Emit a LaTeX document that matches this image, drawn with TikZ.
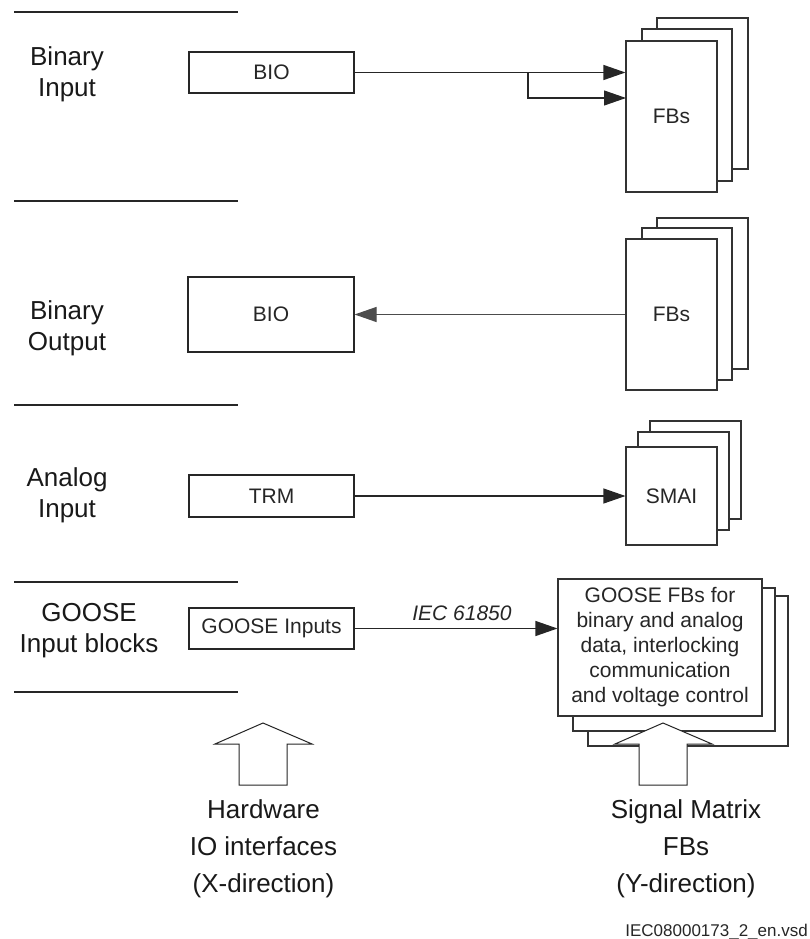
\documentclass[tikz,border=0pt]{standalone}
\usepackage{fontspec}
\setmainfont{Liberation Sans}
\usetikzlibrary{arrows.meta}
\begin{document}
\begin{tikzpicture}[x=1pt, y=-1pt,
  sep/.style={line width=2pt, draw=black!85},
  lbl/.style={align=center, font=\fontsize{26}{31}\selectfont, text=black!90, inner sep=0pt},
  botlbl/.style={align=center, font=\fontsize{26}{37}\selectfont, text=black!90, inner sep=0pt},
  iobox/.style={draw=black!85, line width=1.1pt, fill=white, inner sep=0pt, font=\fontsize{21}{25}\selectfont, text=black!85},
  layer/.style={draw=black!80, line width=1.1pt, fill=white, inner sep=0pt, font=\fontsize{21}{25}\selectfont, text=black!85, align=center},
  arr/.style={line width=1.1pt, draw=black!85, -{Triangle[length=22pt,width=15pt]}},
  hollow/.style={draw=black!85, line width=1pt, fill=white, line join=miter}
]
\useasboundingbox (0,0) rectangle (810,939);

% separator lines
\draw[sep] (14,12) -- (238,12);
\draw[sep] (14,201) -- (238,201);
\draw[sep] (14,405) -- (238,405);
\draw[sep] (14,582) -- (238,582);
\draw[sep] (14,692) -- (238,692);

% row labels
\node[lbl] (lbin) at (67,74) {Binary\\Input};
\node[lbl] (lbout) at (67,328) {Binary\\Output};
\node[lbl] (lana) at (67,495) {Analog\\Input};
\node[lbl] (lgoose) at (89,631) {GOOSE\\Input blocks};

% left boxes
\node[iobox, minimum width=165pt, minimum height=41pt] (bio1) at (271.5,72.5) {BIO};
\node[iobox, minimum width=166pt, minimum height=75pt] (bio2) at (271,314.5) {BIO};
\node[iobox, minimum width=165pt, minimum height=42pt] (trm) at (271.5,496) {TRM};
\node[iobox, minimum width=165pt, minimum height=41pt] (gin) at (271.5,628.5) {GOOSE Inputs};

% stack 1
\node[layer, minimum width=91pt, minimum height=151pt] (fb1b) at (702.5,93.5) {};
\node[layer, minimum width=90pt, minimum height=152pt] (fb1m) at (687,105) {};
\node[layer, minimum width=91pt, minimum height=151pt] (fb1f) at (671.5,116.5) {FBs};

% stack 2
\node[layer, minimum width=91pt, minimum height=151pt] (fb2b) at (702.5,293.5) {};
\node[layer, minimum width=90pt, minimum height=152pt] (fb2m) at (687,304) {};
\node[layer, minimum width=91pt, minimum height=151pt] (fb2f) at (671.5,314.5) {FBs};

% stack 3
\node[layer, minimum width=91pt, minimum height=98pt] (fb3b) at (695.5,470) {};
\node[layer, minimum width=91pt, minimum height=98pt] (fb3m) at (683.5,481) {};
\node[layer, minimum width=91pt, minimum height=98pt] (fb3f) at (671.5,496) {SMAI};

% stack 4
\node[layer, minimum width=200pt, minimum height=150pt] (fb4b) at (688,671) {};
\node[layer, minimum width=202pt, minimum height=143pt] (fb4m) at (674,659.5) {};
\node[layer, minimum width=204pt, minimum height=137pt] (fb4f) at (660,647.5)
  {GOOSE FBs for\\binary and analog\\data, interlocking\\communication\\and voltage control};

% connectors
\coordinate (split) at (528,72.5);
\coordinate (in2) at (626,98);
\draw[arr] (bio1.east) -- (bio1.east -| fb1f.west);
\draw[arr] (split) |- (in2);
\draw[arr, draw=black!70] (fb2f.west) -- (bio2.east);
\draw[arr] (trm.east) -- (fb3f.west);
\draw[arr] (gin.east) -- (gin.east -| fb4f.west);
\node[anchor=base, inner sep=0pt, font=\fontsize{21}{25}\selectfont\itshape, text=black!85] (iec) at (462,620) {IEC 61850};

% hollow arrows
\draw[hollow] (263,723) -- (312,744) -- (287,744) -- (287,785) -- (239,785) -- (239,744) -- (215,744) -- cycle;
\draw[hollow] (663,723) -- (712,744) -- (687,744) -- (687,785) -- (639,785) -- (639,744) -- (615,744) -- cycle;

% bottom labels
\node[botlbl] (hw) at (263.5,849) {Hardware\\IO interfaces\\(X-direction)};
\node[botlbl] (sm) at (686,849) {Signal Matrix\\FBs\\(Y-direction)};

\node[anchor=base east, inner sep=0pt, font=\fontsize{17}{20}\selectfont, text=black!85] (vsd) at (808,936) {IEC08000173\_2\_en.vsd};
\end{tikzpicture}
\end{document}
